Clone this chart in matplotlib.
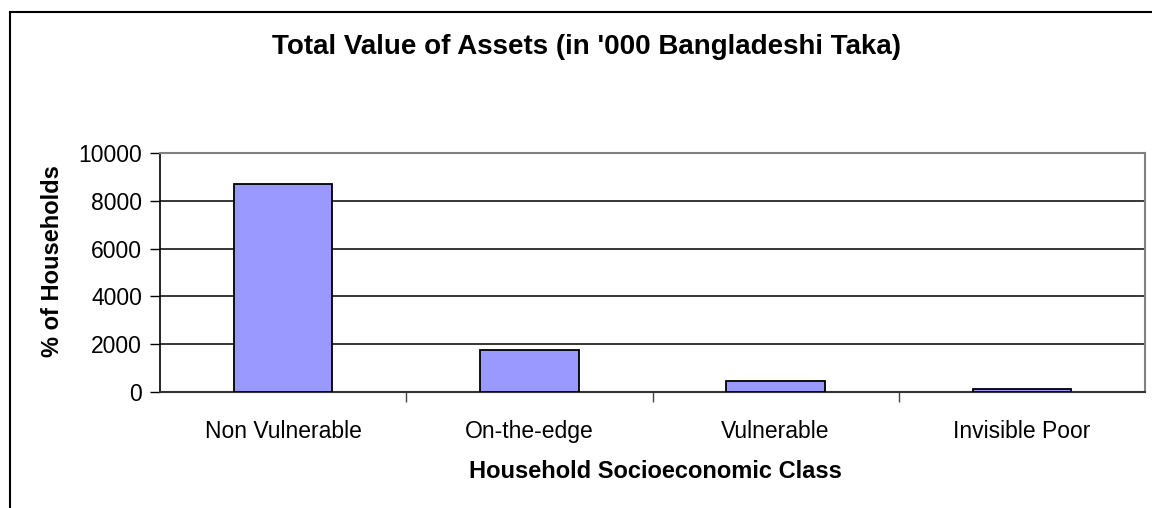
import matplotlib.pyplot as plt
from matplotlib.patches import Rectangle

plt.rcParams['font.family'] = ['Liberation Sans', 'DejaVu Sans']

classes = ['Non Vulnerable', 'On-the-edge', 'Vulnerable', 'Invisible Poor']
asset_values = [8700, 1750, 480, 110]
y_ticks = [0, 2000, 4000, 6000, 8000, 10000]

fig = plt.figure(figsize=(11.52, 5.08), dpi=100)
ax = fig.add_axes([160 / 1152, 1 - 392 / 508, 985 / 1152, 239 / 508])

# outer chart frame, open at the right and bottom
fig.patches.append(Rectangle((10 / 1152, -0.1), 1.2, 1 - 12 / 508 + 0.1,
                             transform=fig.transFigure, fill=False,
                             edgecolor='black', linewidth=1.5, zorder=0))

x = list(range(len(classes)))
ax.bar(x, asset_values, width=0.4, color='#9999ff', edgecolor='black',
       linewidth=1.3, zorder=3)

ax.set_xlim(-0.5, len(classes) - 0.5)
ax.set_ylim(0, 10000)
ax.set_yticks(y_ticks)
ax.set_yticklabels([str(v) for v in y_ticks], fontsize=16.5)
for v in y_ticks[1:-1]:
    ax.axhline(v, color='black', linewidth=1.1, zorder=1)

ax.set_xticks(x)
ax.set_xticklabels(classes, fontsize=16.5)
ax.set_xticks([i + 0.5 for i in range(len(classes) - 1)], minor=True)
ax.tick_params(axis='x', which='major', length=0, pad=20)
ax.tick_params(axis='x', which='minor', length=7, width=1, color='#444444')
ax.tick_params(axis='y', length=7, width=1, pad=6)

for side in ['top', 'right']:
    ax.spines[side].set_color('#808080')
    ax.spines[side].set_linewidth(1.5)
ax.spines['left'].set_color('black')
ax.spines['left'].set_linewidth(1.2)
ax.spines['bottom'].set_color('#333333')
ax.spines['bottom'].set_linewidth(1.5)

fig.text(586 / 1152, 1 - 47 / 508, "Total Value of Assets (in '000 Bangladeshi Taka)",
         ha='center', va='center', fontsize=20, fontweight='bold')
fig.text(655 / 1152, 1 - 472 / 508, 'Household Socioeconomic Class',
         ha='center', va='center', fontsize=17, fontweight='bold')
fig.text(53 / 1152, 1 - 261 / 508, '% of Households', rotation=90,
         ha='center', va='center', fontsize=17, fontweight='bold')

fig.savefig('out.png', dpi=100)
